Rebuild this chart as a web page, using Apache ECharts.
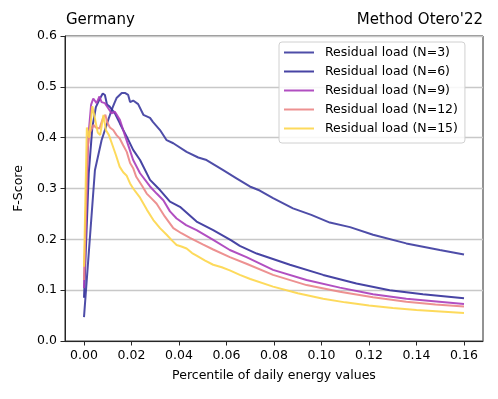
<!DOCTYPE html>
<html>
<head>
<meta charset="utf-8">
<script src="https://cdn.jsdelivr.net/npm/echarts@6/dist/echarts.min.js"></script>
<style>
  html, body { margin: 0; padding: 0; background: #fff; }
  #chart { width: 498px; height: 399px; }
</style>
</head>
<body>
<div id="chart"></div>
<script>
// x tick values and y range
const xTicks = [0, 0.02, 0.04, 0.06, 0.08, 0.10, 0.12, 0.14, 0.16];
const seriesNames = ["Residual load (N=3)", "Residual load (N=6)", "Residual load (N=9)", "Residual load (N=12)", "Residual load (N=15)"];
const seriesColors = ["#3b3a9e", "#33309a", "#a83cba", "#eb8585", "#fdd64a"];

// [percentile, F-score]
const n3 = [[0, 0.047], [0.0046, 0.336], [0.0074, 0.395], [0.0102, 0.435], [0.0116, 0.454], [0.0128, 0.468],
  [0.0137, 0.478], [0.0159, 0.488], [0.0172, 0.488], [0.0186, 0.484], [0.0194, 0.47], [0.0207, 0.473],
  [0.0215, 0.476], [0.0228, 0.466], [0.025, 0.445], [0.0278, 0.439], [0.029, 0.431], [0.032, 0.415],
  [0.0348, 0.395], [0.0376, 0.389], [0.0432, 0.372], [0.0481, 0.361], [0.0516, 0.356], [0.0586, 0.336],
  [0.0642, 0.32], [0.0698, 0.304], [0.074, 0.296], [0.0796, 0.281], [0.088, 0.261], [0.0957, 0.248],
  [0.1035, 0.233], [0.112, 0.224], [0.1217, 0.209], [0.1357, 0.192], [0.1498, 0.179], [0.16, 0.17]];

const n6 = [[0, 0.085], [0.002, 0.33], [0.0035, 0.42], [0.005, 0.46], [0.0065, 0.475], [0.0079, 0.487],
  [0.0088, 0.484], [0.0097, 0.465], [0.0108, 0.461], [0.0116, 0.464], [0.013, 0.448], [0.0151, 0.428],
  [0.0165, 0.415], [0.018, 0.402], [0.0207, 0.376], [0.0236, 0.356], [0.0278, 0.317], [0.032, 0.297],
  [0.0362, 0.274], [0.0404, 0.264], [0.0474, 0.235], [0.0544, 0.218], [0.062, 0.198], [0.0656, 0.187],
  [0.0727, 0.172], [0.0867, 0.15], [0.1007, 0.13], [0.1147, 0.113], [0.1287, 0.1], [0.1427, 0.092], [0.16, 0.084]];

const n9 = [[0, 0.104], [0.0018, 0.40], [0.003, 0.465], [0.0039, 0.477], [0.0053, 0.468], [0.0065, 0.481],
  [0.0074, 0.47], [0.0088, 0.468], [0.0102, 0.458], [0.0116, 0.448], [0.013, 0.451], [0.0151, 0.435],
  [0.0172, 0.405], [0.019, 0.38], [0.0207, 0.356], [0.0236, 0.33], [0.0278, 0.304], [0.0306, 0.29],
  [0.0334, 0.277], [0.0362, 0.255], [0.039, 0.241], [0.043, 0.228], [0.0474, 0.218], [0.0544, 0.199],
  [0.0614, 0.179], [0.0684, 0.165], [0.0796, 0.14], [0.0937, 0.12], [0.1077, 0.105], [0.1217, 0.092],
  [0.1357, 0.083], [0.16, 0.073]];

const n12 = [[0, 0.12], [0.0015, 0.38], [0.0025, 0.41], [0.004, 0.425], [0.005, 0.42], [0.0065, 0.418],
  [0.0081, 0.44], [0.009, 0.445], [0.0098, 0.43], [0.0109, 0.42], [0.0123, 0.415], [0.0137, 0.405],
  [0.0151, 0.398], [0.0165, 0.385], [0.018, 0.372], [0.0194, 0.35], [0.0207, 0.34], [0.022, 0.323],
  [0.0245, 0.305], [0.0264, 0.29], [0.0285, 0.28], [0.0306, 0.27], [0.034, 0.245], [0.0376, 0.222],
  [0.041, 0.212], [0.0446, 0.203], [0.05, 0.19], [0.0544, 0.18], [0.0614, 0.165], [0.0684, 0.152],
  [0.0796, 0.13], [0.0937, 0.11], [0.1077, 0.097], [0.1217, 0.086], [0.1357, 0.077], [0.148, 0.072], [0.16, 0.068]];

const n15 = [[0, 0.146], [0.0012, 0.42], [0.0022, 0.40], [0.0035, 0.462], [0.0045, 0.44], [0.0058, 0.41],
  [0.0068, 0.405], [0.0082, 0.445], [0.0092, 0.415], [0.0105, 0.405], [0.012, 0.385], [0.0135, 0.365],
  [0.015, 0.343], [0.0165, 0.332], [0.018, 0.325], [0.0194, 0.31], [0.0207, 0.30], [0.0236, 0.282],
  [0.0265, 0.258], [0.0292, 0.238], [0.032, 0.222], [0.0348, 0.209], [0.037, 0.198], [0.039, 0.189],
  [0.041, 0.186], [0.0432, 0.182], [0.0455, 0.173], [0.0474, 0.168], [0.051, 0.158], [0.0544, 0.15],
  [0.058, 0.145], [0.0614, 0.139], [0.0656, 0.13], [0.07, 0.122], [0.0796, 0.107], [0.09, 0.094],
  [0.1007, 0.083], [0.11, 0.076], [0.12, 0.07], [0.13, 0.065], [0.14, 0.061], [0.15, 0.058], [0.16, 0.055]];

const seriesData = [n3, n6, n9, n12, n15];

const font = "DejaVu Sans";
const ink = "#262626";

const chart = echarts.init(document.getElementById("chart"));

const option = {
  animation: false,
  textStyle: { fontFamily: font },
  title: [
    { text: "Germany", left: 66, top: 13, textStyle: { fontFamily: font, fontSize: 15, fontWeight: "normal", color: "#000" }, padding: 0 },
    { text: "Method Otero'22", right: 15, top: 13, textStyle: { fontFamily: font, fontSize: 15, fontWeight: "normal", color: "#000" }, padding: 0 },
  ],
  grid: {
    left: 65,
    right: 15,
    top: 36,
    bottom: 58,
    show: true,
    borderColor: ink,
    borderWidth: 1,
  },
  legend: {
    orient: "vertical",
    left: 279,
    top: 42,
    padding: [4, 7, 8, 4],
    itemWidth: 30,
    itemHeight: 14,
    itemGap: 6,
    itemStyle: { opacity: 0 },
    lineStyle: { width: 2 },
    backgroundColor: "rgba(255,255,255,0.85)",
    borderColor: "#d0d0d0",
    borderWidth: 1,
    borderRadius: 3,
    textStyle: { fontFamily: font, fontSize: 12.5, color: "#000", padding: [0, 0, 0, 6] },
    data: seriesNames,
  },
  xAxis: {
    type: "value",
    min: -0.008,
    max: 0.168,
    name: "Percentile of daily energy values",
    nameLocation: "middle",
    nameGap: 28,
    nameTextStyle: { fontFamily: font, fontSize: 12.5, color: "#000" },
    axisLine: { show: true, onZero: false, lineStyle: { color: ink, width: 1 } },
    axisTick: { show: true, customValues: xTicks, length: 4.5, lineStyle: { color: ink } },
    axisLabel: {
      customValues: xTicks,
      margin: 8,
      fontFamily: font,
      fontSize: 12.5,
      color: "#000",
      formatter: (v) => v.toFixed(2),
    },
    splitLine: { show: false },
  },
  yAxis: {
    type: "value",
    min: 0,
    max: 0.6,
    interval: 0.1,
    name: "F-Score",
    nameLocation: "middle",
    nameGap: 40,
    nameTextStyle: { fontFamily: font, fontSize: 12.5, color: "#000" },
    axisLine: { show: true, onZero: false, lineStyle: { color: ink, width: 1 } },
    axisTick: { show: true, length: 4.5, lineStyle: { color: ink } },
    axisLabel: {
      margin: 8,
      fontFamily: font,
      fontSize: 12.5,
      color: "#000",
      formatter: (v) => v.toFixed(1),
    },
    splitLine: { show: true, lineStyle: { color: "#c8c8c8", width: 1.3 } },
  },
  series: seriesNames.map((name, i) => ({
    name: name,
    type: "line",
    data: seriesData[i],
    symbol: "none",
    showSymbol: false,
    color: seriesColors[i],
    lineStyle: { color: seriesColors[i], width: 2, opacity: 0.9 },
  })),
};

chart.setOption(option);
</script>
</body>
</html>
